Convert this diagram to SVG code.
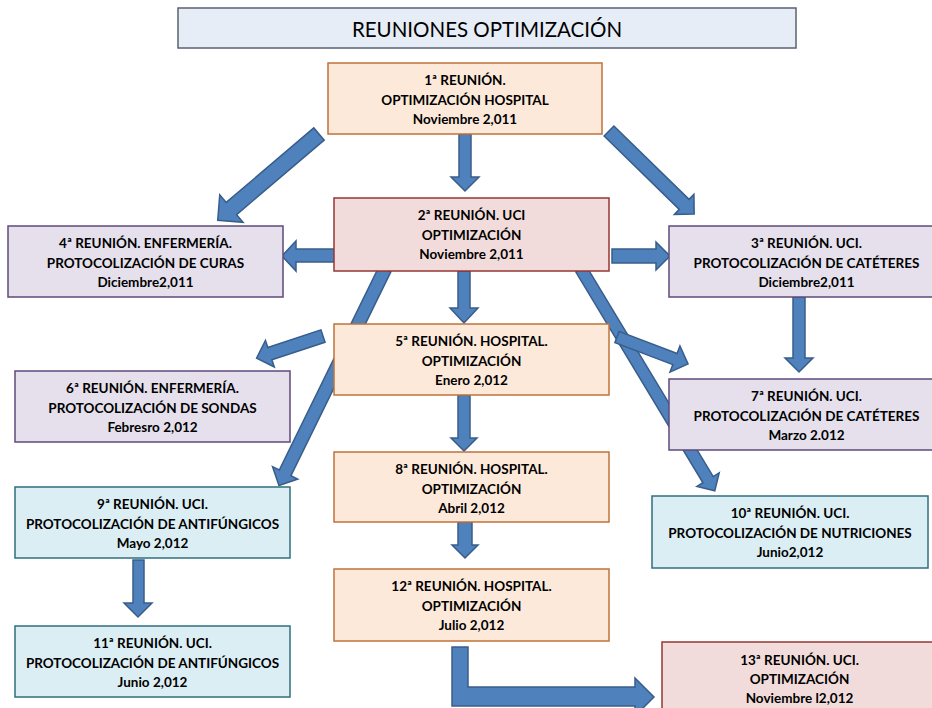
<svg xmlns="http://www.w3.org/2000/svg" width="932" height="708" viewBox="0 0 932 708">
<style>
.arrow{fill:#4f81bd;stroke:#385d8a;stroke-width:1.5;stroke-linejoin:miter}
.box{stroke-width:1.5}
.peach{fill:#fde9d9;stroke:#c0733a}
.pink{fill:#f2dcdb;stroke:#953735}
.lav{fill:#e5e0ec;stroke:#5f497a}
.cyan{fill:#dbeef4;stroke:#2f6f7f}
.t{font-family:Lato,"Open Sans","Liberation Sans",sans-serif;font-weight:bold;font-size:13.5px;text-anchor:middle;fill:#000}
.title{font-family:Lato,"Open Sans","Liberation Sans",sans-serif;font-size:20.5px;text-anchor:middle;fill:#000}
</style>
<rect width="932" height="708" fill="#ffffff"/>
<g id="connectors">
  <polygon class="arrow" points="459,134 471,134 471,177 479,177 465,191 451,177 459,177"/>
  <polygon class="arrow" transform="translate(319,134) rotate(139.6)" points="0,-8 115,-8 115,-18 133,0 115,18 115,8 0,8"/>
  <polygon class="arrow" transform="translate(609,131) rotate(44.3)" points="0,-7 105,-7 105,-14 119,0 105,14 105,7 0,7"/>
  <polygon class="arrow" points="339,249 296,249 296,241 282,256 296,271 296,262 339,262"/>
  <polygon class="arrow" points="612,249 656,249 656,242 670,256 656,270 656,263 612,263"/>
  <polygon class="arrow" points="458,271 470,271 470,308 478,308 464,323 450,308 458,308"/>
  <polygon class="arrow" transform="translate(385,269) rotate(116.1)" points="0,-6.5 227,-6.5 227,-14 241,0 227,14 227,6.5 0,6.5"/>
  <polygon class="arrow" transform="translate(581,269) rotate(58.9)" points="0,-6 246,-6 246,-13 259,0 246,13 246,6 0,6"/>
  <polygon class="arrow" transform="translate(617,337) rotate(20.8)" points="0,-6 62,-6 62,-14 76,0 62,14 62,6 0,6"/>
  <polygon class="arrow" points="793,297 805,297 805,358 813,358 799,372 785,358 793,358"/>
  <polygon class="arrow" transform="translate(323,336) rotate(161.6)" points="0,-6.5 56,-6.5 56,-14 70,0 56,14 56,6.5 0,6.5"/>
  <polygon class="arrow" points="458,395 470,395 470,438 477,438 464,451 451,438 458,438"/>
  <polygon class="arrow" points="458,522 472,522 472,545 478,545 465,558 452,545 458,545"/>
  <polygon class="arrow" points="133,560 144,560 144,603 152,603 138,617 124,603 133,603"/>
  <polygon class="arrow" points="452,647 468,647 468,687 635,687 635,678 654,697 635,716 635,706 452,706"/>
</g>
<g id="title">
  <rect x="178" y="8" width="618" height="40" fill="#e6edf6" stroke="#5a6270" stroke-width="1.5"/>
  <text class="title" x="487" y="37">REUNIONES OPTIMIZACIÓN</text>
</g>
<g id="n1">
  <rect class="box peach" x="328" y="63" width="274" height="71"/>
  <text class="t" x="465" y="85">1ª REUNIÓN.</text>
  <text class="t" x="465" y="104.5">OPTIMIZACIÓN HOSPITAL</text>
  <text class="t" x="465" y="124">Noviembre 2,011</text>
</g>
<g id="n2">
  <rect class="box pink" x="334" y="198" width="275" height="73"/>
  <text class="t" x="471.5" y="220">2ª REUNIÓN. UCI</text>
  <text class="t" x="471.5" y="239.5">OPTIMIZACIÓN</text>
  <text class="t" x="471.5" y="259">Noviembre 2,011</text>
</g>
<g id="n4">
  <rect class="box lav" x="8" y="226" width="275" height="71"/>
  <text class="t" x="145.5" y="248">4ª REUNIÓN. ENFERMERÍA.</text>
  <text class="t" x="145.5" y="267.5">PROTOCOLIZACIÓN DE CURAS</text>
  <text class="t" x="145.5" y="287">Diciembre2,011</text>
</g>
<g id="n3">
  <rect class="box lav" x="669" y="226" width="275" height="71"/>
  <text class="t" x="806.5" y="248">3ª REUNIÓN. UCI.</text>
  <text class="t" x="806.5" y="267.5">PROTOCOLIZACIÓN DE CATÉTERES</text>
  <text class="t" x="806.5" y="287">Diciembre2,011</text>
</g>
<g id="n5">
  <rect class="box peach" x="334" y="324" width="275" height="71"/>
  <text class="t" x="471.5" y="346">5ª REUNIÓN. HOSPITAL.</text>
  <text class="t" x="471.5" y="365.5">OPTIMIZACIÓN</text>
  <text class="t" x="471.5" y="385">Enero 2,012</text>
</g>
<g id="n6">
  <rect class="box lav" x="15" y="371" width="275" height="71"/>
  <text class="t" x="152.5" y="393">6ª REUNIÓN. ENFERMERÍA.</text>
  <text class="t" x="152.5" y="412.5">PROTOCOLIZACIÓN DE SONDAS</text>
  <text class="t" x="152.5" y="432">Febresro 2,012</text>
</g>
<g id="n7">
  <rect class="box lav" x="669" y="379" width="275" height="71"/>
  <text class="t" x="806.5" y="401">7ª REUNIÓN. UCI.</text>
  <text class="t" x="806.5" y="420.5">PROTOCOLIZACIÓN DE CATÉTERES</text>
  <text class="t" x="806.5" y="440">Marzo 2.012</text>
</g>
<g id="n8">
  <rect class="box peach" x="334" y="452" width="275" height="70"/>
  <text class="t" x="471.5" y="474">8ª REUNIÓN. HOSPITAL.</text>
  <text class="t" x="471.5" y="493.5">OPTIMIZACIÓN</text>
  <text class="t" x="471.5" y="513">Abril 2,012</text>
</g>
<g id="n9">
  <rect class="box cyan" x="15" y="487" width="275" height="71"/>
  <text class="t" x="152.5" y="509">9ª REUNIÓN. UCI.</text>
  <text class="t" x="152.5" y="528.5">PROTOCOLIZACIÓN DE ANTIFÚNGICOS</text>
  <text class="t" x="152.5" y="548">Mayo 2,012</text>
</g>
<g id="n10">
  <rect class="box cyan" x="652" y="496" width="276" height="72"/>
  <text class="t" x="790" y="518">10ª REUNIÓN. UCI.</text>
  <text class="t" x="790" y="537.5">PROTOCOLIZACIÓN DE NUTRICIONES</text>
  <text class="t" x="790" y="557">Junio2,012</text>
</g>
<g id="n12">
  <rect class="box peach" x="334" y="569" width="275" height="72"/>
  <text class="t" x="471.5" y="591">12ª REUNIÓN. HOSPITAL.</text>
  <text class="t" x="471.5" y="610.5">OPTIMIZACIÓN</text>
  <text class="t" x="471.5" y="630">Julio 2,012</text>
</g>
<g id="n11">
  <rect class="box cyan" x="15" y="626" width="275" height="71"/>
  <text class="t" x="152.5" y="648">11ª REUNIÓN. UCI.</text>
  <text class="t" x="152.5" y="667.5">PROTOCOLIZACIÓN DE ANTIFÚNGICOS</text>
  <text class="t" x="152.5" y="687">Junio 2,012</text>
</g>
<g id="n13">
  <rect class="box pink" x="662" y="642" width="275" height="80"/>
  <text class="t" x="799.5" y="665">13ª REUNIÓN. UCI.</text>
  <text class="t" x="799.5" y="684">OPTIMIZACIÓN</text>
  <text class="t" x="799.5" y="703">Noviembre l2,012</text>
</g>
</svg>
